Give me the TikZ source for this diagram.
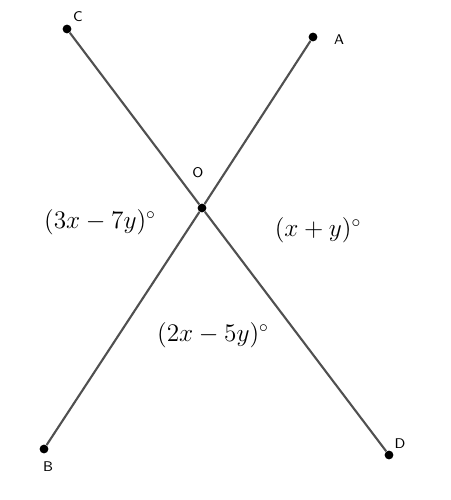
\documentclass[tikz,border=0pt]{standalone}
\usepackage{tikz}
\definecolor{linegray}{RGB}{80,80,80}
\begin{document}
\begin{tikzpicture}[x=0.02cm,y=-0.02cm,pt/.style={circle,fill=black,inner sep=0pt,minimum size=5pt},lbl/.style={font=\sffamily\footnotesize},ang/.style={font=\Large}]
			\useasboundingbox (0,0) rectangle (450,500);
			
			\node[pt] (C) at (67,29) {};
			\node[pt] (A) at (313,37) {};
			\node[pt] (O) at (202,208) {};
			\node[pt] (B) at (44,449) {};
			\node[pt] (D) at (389,455) {};
			
			\path[draw=linegray,line width=1.2pt]
			(C) edge (O)
			(O) edge (D)
			(A) edge (O)
			(O) edge (B)
			;
			
			\node[lbl] (lC) at (78,17) {C};
			\node[lbl] (lA) at (339,40) {A};
			\node[lbl] (lO) at (198,173) {O};
			\node[lbl] (lB) at (48,467) {B};
			\node[lbl] (lD) at (400,444) {D};
			
			\node[ang] (a1) at (100,222) {$(3x-7y)^\circ$};
			\node[ang] (a2) at (318,230) {$(x+y)^\circ$};
			\node[ang] (a3) at (213,335) {$(2x-5y)^\circ$};
\end{tikzpicture}
\end{document}
